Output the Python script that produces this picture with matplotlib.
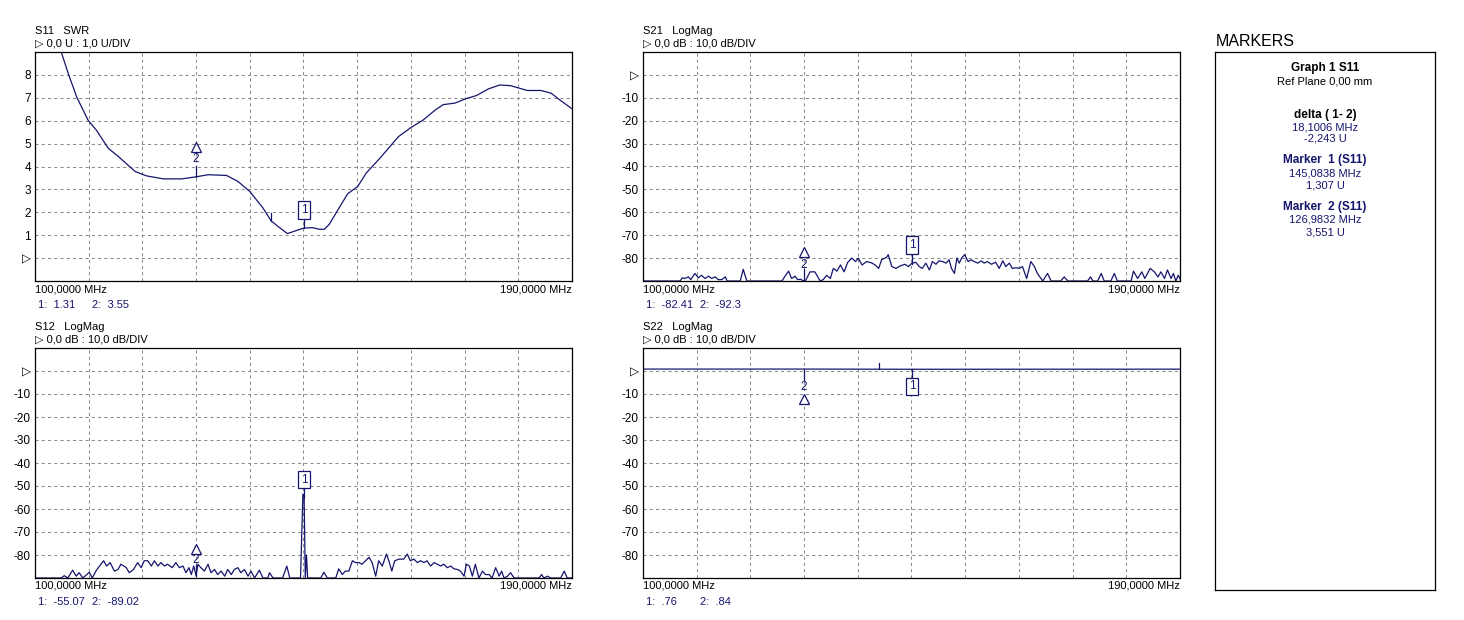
import numpy as np
import matplotlib.pyplot as plt

plt.rcParams['font.family'] = ['Liberation Sans Narrow', 'Liberation Sans', 'DejaVu Sans']
plt.rcParams['font.size'] = 8

NAVY = '#15156e'
GRID = '#8c8c8c'

# S11 SWR trace (MHz, U)
s11_freq = [100.0, 104.4, 105.6, 107.0, 108.9, 110.3, 112.3, 114.0, 116.8, 118.7, 121.5, 124.6,
            127.0, 129.0, 132.1, 134.0, 136.0, 138.2, 139.6, 141.0, 142.3, 145.0, 146.5, 147.6,
            148.5, 149.3, 150.8, 152.4, 154.1, 155.5, 157.8, 160.9, 163.0, 165.0, 167.0, 168.4,
            170.4, 172.2, 174.0, 176.0, 177.9, 179.7, 182.5, 184.8, 186.5, 188.1, 190.0]
s11_swr = [9.0, 9.0, 8.04, 7.03, 6.02, 5.58, 4.79, 4.43, 3.78, 3.59, 3.46, 3.46,
           3.55, 3.64, 3.61, 3.35, 2.91, 2.19, 1.62, 1.33, 1.07, 1.31, 1.33, 1.26,
           1.26, 1.47, 2.12, 2.81, 3.13, 3.71, 4.36, 5.30, 5.70, 6.02, 6.45, 6.70,
           6.77, 6.96, 7.10, 7.39, 7.56, 7.53, 7.32, 7.32, 7.20, 6.88, 6.52]

# S21 LogMag trace (MHz, dB)
s21_freq = [100.0, 106.2, 106.6, 107.0, 107.6, 108.0, 108.7, 109.3, 109.8, 110.4, 111.0, 111.5,
            112.1, 112.6, 113.2, 113.8, 114.1, 116.3, 116.8, 117.4, 123.3, 123.8, 124.4, 124.9,
            125.5, 125.9, 126.4, 126.9, 127.2, 128.0, 128.8, 129.7, 130.2, 130.8, 131.4, 131.9,
            132.5, 133.1, 133.7, 134.3, 135.0, 135.6, 136.1, 136.7, 137.5, 138.4, 138.9, 139.5,
            140.0, 140.8, 141.1, 141.7, 142.4, 143.1, 143.9, 144.5, 145.0, 145.7, 146.3, 146.8,
            147.4, 148.0, 148.5, 149.1, 149.6, 150.2, 150.8, 151.3, 151.7, 152.2, 152.6, 153.0,
            153.4, 153.9, 154.5, 155.0, 155.5, 156.1, 156.7, 157.2, 157.7, 158.4, 159.1, 159.7,
            160.3, 160.8, 161.4, 161.9, 162.5, 163.1, 163.6, 164.3, 165.0, 165.6, 166.1, 167.0,
            167.8, 168.4, 170.0, 170.6, 171.2, 174.5, 175.0, 175.4, 176.2, 176.8, 177.3, 178.4,
            179.0, 179.5, 181.8, 182.2, 182.9, 183.6, 184.1, 185.0, 185.7, 186.3, 186.8, 187.4,
            187.9, 188.5, 188.9, 189.3, 189.7, 190.0]
s21_db = [-90.0, -90.0, -88.6, -88.9, -88.2, -89.4, -86.7, -88.6, -87.5, -88.9, -87.9, -88.9,
          -88.2, -89.4, -89.4, -88.2, -90.0, -90.0, -84.9, -90.0, -90.0, -87.9, -85.7, -88.9,
          -87.9, -89.4, -89.2, -90.0, -90.0, -86.0, -86.0, -90.0, -89.4, -87.5, -88.9, -84.5,
          -85.7, -83.0, -86.0, -81.9, -80.0, -81.5, -80.0, -83.0, -81.5, -82.2, -83.0, -84.5,
          -80.7, -79.7, -78.5, -83.7, -84.5, -83.4, -82.7, -83.7, -82.4, -81.8, -83.7, -84.5,
          -82.2, -85.2, -81.5, -82.7, -81.2, -81.5, -82.2, -80.7, -84.5, -86.7, -80.0, -82.2,
          -80.0, -78.5, -81.5, -80.7, -81.5, -82.2, -81.2, -82.2, -81.5, -82.7, -81.8, -84.5,
          -81.2, -83.7, -82.2, -84.5, -84.2, -84.5, -83.7, -88.9, -81.5, -83.7, -86.7, -90.0,
          -86.7, -90.0, -90.0, -88.2, -90.0, -90.0, -88.2, -90.0, -90.0, -86.7, -90.0, -90.0,
          -86.7, -90.0, -90.0, -85.7, -88.9, -86.0, -88.9, -84.5, -86.0, -88.2, -86.0, -88.9,
          -85.2, -88.9, -86.7, -90.0, -87.5, -89.0]

# S12 LogMag trace (MHz, dB)
s12_freq = [100.0, 104.4, 104.9, 105.5, 106.3, 106.9, 107.4, 108.0, 108.7, 109.1, 109.6, 110.2,
            110.8, 111.5, 112.0, 112.6, 113.3, 113.9, 114.4, 115.3, 115.8, 116.5, 117.2, 117.8,
            118.3, 118.9, 119.5, 120.0, 120.6, 121.1, 121.7, 122.2, 123.0, 123.6, 124.2, 124.8,
            125.3, 125.8, 126.2, 126.6, 127.0, 127.3, 127.8, 128.4, 129.0, 129.5, 130.1, 130.6,
            131.2, 131.8, 132.3, 132.9, 133.4, 134.0, 134.5, 135.1, 135.7, 136.2, 136.8, 137.6,
            138.2, 139.0, 139.3, 139.9, 141.5, 142.2, 142.7, 144.5, 144.9, 145.1, 145.3, 145.5,
            145.7, 147.9, 148.4, 149.0, 150.4, 150.9, 151.5, 152.0, 152.6, 153.2, 153.7, 154.3,
            154.8, 155.4, 156.0, 156.5, 157.1, 157.6, 158.2, 158.9, 159.3, 159.8, 160.3, 161.0,
            161.8, 162.4, 162.9, 163.5, 164.1, 164.6, 165.2, 165.7, 166.3, 166.9, 167.4, 168.0,
            168.5, 169.1, 169.7, 170.2, 170.8, 171.3, 171.9, 172.3, 172.8, 173.3, 173.8, 174.4,
            175.0, 175.5, 176.1, 176.6, 177.2, 177.8, 178.2, 178.6, 179.2, 179.7, 180.3, 184.5,
            184.9, 185.3, 185.9, 186.4, 188.1, 188.7, 189.2, 190.0]
s12_db = [-90.0, -90.0, -89.0, -90.0, -86.6, -89.2, -87.7, -90.0, -88.5, -87.5, -90.0, -87.0,
          -84.8, -82.5, -84.8, -83.3, -87.0, -86.3, -84.0, -85.5, -87.7, -86.3, -83.3, -85.5,
          -82.5, -82.5, -84.8, -82.5, -84.8, -83.3, -84.8, -84.0, -85.5, -83.3, -85.5, -84.8,
          -87.7, -85.5, -88.5, -84.8, -89.0, -84.0, -85.5, -87.0, -84.0, -87.7, -86.3, -88.5,
          -87.0, -89.2, -86.3, -88.5, -86.3, -85.5, -87.7, -86.3, -89.2, -87.0, -90.0, -86.6,
          -90.0, -90.0, -87.7, -90.0, -90.0, -84.8, -90.0, -90.0, -53.5, -54.0, -90.0, -80.0,
          -90.0, -90.0, -87.5, -90.0, -90.0, -86.0, -88.5, -87.0, -87.0, -82.5, -83.3, -83.3,
          -84.0, -82.5, -81.0, -83.3, -89.2, -82.5, -84.8, -79.6, -82.5, -87.0, -82.5, -81.8,
          -81.8, -79.6, -82.5, -81.8, -83.3, -82.5, -83.3, -82.5, -84.8, -83.3, -84.0, -84.8,
          -84.0, -85.5, -84.8, -86.0, -86.3, -87.0, -89.2, -84.0, -84.8, -89.2, -84.0, -90.0,
          -87.0, -88.5, -88.5, -90.0, -85.5, -89.2, -87.0, -90.0, -89.2, -87.7, -90.0, -90.0,
          -88.5, -90.0, -89.2, -90.0, -90.0, -87.0, -90.0, -90.0]

# S22 LogMag trace (MHz, dB)
s22_freq = [100.0, 127.0, 145.1, 190.0]
s22_db = [0.84, 0.84, 0.76, 0.80]

swr_ticks = [0, 1, 2, 3, 4, 5, 6, 7, 8]
swr_labels = ['▷', '1', '2', '3', '4', '5', '6', '7', '8']
db_ticks = [0, -10, -20, -30, -40, -50, -60, -70, -80]
db_labels = ['▷', '-10', '-20', '-30', '-40', '-50', '-60', '-70', '-80']

mk1_freq = 145.0838
mk2_freq = 126.9832

W, H = 1464, 620
fig = plt.figure(figsize=(14.64, 6.2), dpi=100)


def px_axes(left, top, right, bottom):
    return fig.add_axes([left / W, 1 - bottom / H, (right - left) / W, (bottom - top) / H])


def panel(ax, ylim, yticks, ylabels, title, scale, r1, r2):
    ax.set_xlim(100, 190)
    ax.set_ylim(*ylim)
    ax.set_xticks(np.linspace(100, 190, 11))
    ax.set_xticklabels([])
    ax.set_yticks(yticks)
    ax.set_yticklabels(ylabels)
    ax.tick_params(length=0, pad=3, labelsize=8.5)
    ax.grid(True, color=GRID, lw=0.75, ls=(0, (3, 3)))
    for s in ax.spines.values():
        s.set_linewidth(0.9)
        s.set_color('black')
    pt = 0.72
    ax.annotate(title, xy=(0, 1), xycoords='axes fraction', xytext=(0, 21 * pt),
                textcoords='offset points', ha='left', va='center')
    ax.annotate(scale, xy=(0, 1), xycoords='axes fraction', xytext=(0, 8 * pt),
                textcoords='offset points', ha='left', va='center')
    ax.annotate('100,0000 MHz', xy=(0, 0), xycoords='axes fraction', xytext=(0, -8 * pt),
                textcoords='offset points', ha='left', va='center')
    ax.annotate('190,0000 MHz', xy=(1, 0), xycoords='axes fraction', xytext=(0, -8 * pt),
                textcoords='offset points', ha='right', va='center')
    ax.annotate(r1, xy=(0, 0), xycoords='axes fraction', xytext=(3 * pt, -24 * pt),
                textcoords='offset points', ha='left', va='center', color=NAVY)
    ax.annotate(r2, xy=(0, 0), xycoords='axes fraction', xytext=(57 * pt, -24 * pt),
                textcoords='offset points', ha='left', va='center', color=NAVY)


def box1(ax, x, y0, y1, yc):
    ax.plot([x, x], [y0, y1], color=NAVY, lw=0.9, clip_on=False)
    ax.text(x, yc, '1', ha='center', va='center', color=NAVY, fontsize=8.5,
            bbox=dict(boxstyle='square,pad=0.22', fc='white', ec=NAVY, lw=0.9))


def tri2(ax, x, y0, y1, ynum, ytri):
    ax.plot([x, x], [y0, y1], color=NAVY, lw=0.9)
    ax.text(x, ynum, '2', ha='center', va='center', color=NAVY, fontsize=8.5)
    ax.plot([x], [ytri], marker='^', ms=7, mfc='white', mec=NAVY, mew=0.9)


# S11
ax1 = px_axes(35, 52, 572, 281)
panel(ax1, (-1, 9), swr_ticks, swr_labels, 'S11   SWR', '▷ 0,0 U : 1,0 U/DIV', '1:  1.31', '2:  3.55')
ax1.plot(s11_freq, s11_swr, color=NAVY, lw=0.9)
ax1.plot([139.6, 139.6], [1.62, 1.95], color=NAVY, lw=0.9)
box1(ax1, mk1_freq, 1.31, 1.79, 2.1)
tri2(ax1, mk2_freq, 3.55, 4.03, 4.33, 4.85)

# S21
ax2 = px_axes(643, 52, 1180, 281)
panel(ax2, (-90, 10), db_ticks, db_labels, 'S21   LogMag', '▷ 0,0 dB : 10,0 dB/DIV', '1:  -82.41', '2:  -92.3')
ax2.plot(s21_freq, s21_db, color=NAVY, lw=0.9)
box1(ax2, mk1_freq, -82.4, -77.3, -74.3)
tri2(ax2, mk2_freq, -90, -84.8, -82.8, -77.5)

# S12
ax3 = px_axes(35, 348, 572, 578)
panel(ax3, (-90, 10), db_ticks, db_labels, 'S12   LogMag', '▷ 0,0 dB : 10,0 dB/DIV', '1:  -55.07', '2:  -89.02')
ax3.plot(s12_freq, s12_db, color=NAVY, lw=0.9)
box1(ax3, mk1_freq, -55.07, -50.3, -47.3)
tri2(ax3, mk2_freq, -89.02, -84.5, -82.3, -77.2)

# S22
ax4 = px_axes(643, 348, 1180, 578)
panel(ax4, (-90, 10), db_ticks, db_labels, 'S22   LogMag', '▷ 0,0 dB : 10,0 dB/DIV', '1:  .76', '2:  .84')
ax4.plot(s22_freq, s22_db, color=NAVY, lw=0.9)
ax4.plot([139.6, 139.6], [0.8, 3.3], color=NAVY, lw=0.9)
box1(ax4, mk1_freq, 0.76, -4.6, -6.7)
ax4.plot([mk2_freq, mk2_freq], [0.84, -3.9], color=NAVY, lw=0.9)
ax4.text(mk2_freq, -7.0, '2', ha='center', va='center', color=NAVY, fontsize=8.5)
ax4.plot([mk2_freq], [-12.0], marker='^', ms=7, mfc='white', mec=NAVY, mew=0.9)

# markers panel
axm = px_axes(1215, 52, 1435, 590)
axm.set_xticks([])
axm.set_yticks([])
for s in axm.spines.values():
    s.set_linewidth(0.9)
fig.text(1216 / W, 1 - 41 / H, 'MARKERS', fontsize=11.5, ha='left', va='center',
         family=['Liberation Sans', 'DejaVu Sans'])

panel_lines = [
    ('Graph 1 S11', 68, 'bold', 'black'),
    ('Ref Plane 0,00 mm', 81, 'normal', 'black'),
    ('delta ( 1- 2)', 115, 'bold', 'black'),
    ('18,1006 MHz', 127, 'normal', NAVY),
    ('-2,243 U', 139, 'normal', NAVY),
    ('Marker  1 (S11)', 160, 'bold', NAVY),
    ('145,0838 MHz', 173, 'normal', NAVY),
    ('1,307 U', 185, 'normal', NAVY),
    ('Marker  2 (S11)', 207, 'bold', NAVY),
    ('126,9832 MHz', 220, 'normal', NAVY),
    ('3,551 U', 232, 'normal', NAVY),
]
for txt, y, wt, col in panel_lines:
    fig.text(1325 / W, 1 - y / H, txt, ha='center', va='center',
             fontsize=8.5 if wt == 'bold' else 8, fontweight=wt, color=col)

plt.savefig('out.png', dpi=100)
